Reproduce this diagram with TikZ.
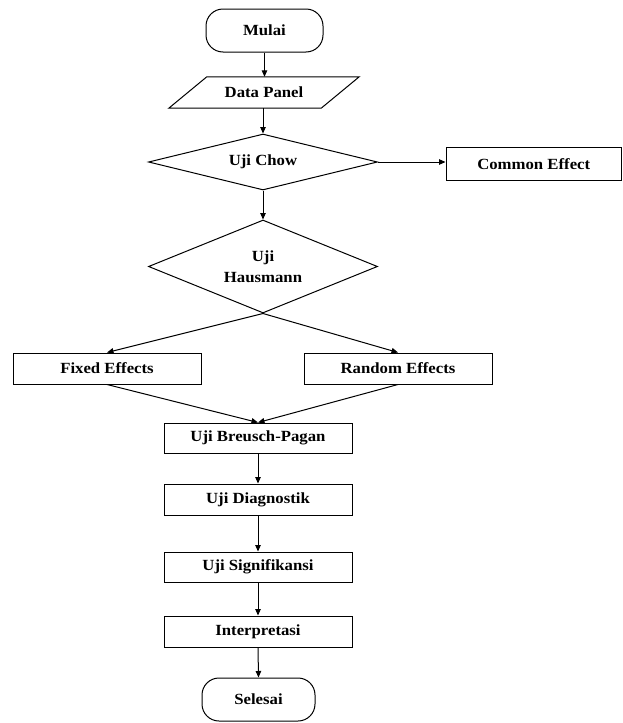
\documentclass[tikz,border=0pt]{standalone}
\usepackage{fontspec}
\setmainfont{Liberation Serif}[FakeStretch=1.08]
\usetikzlibrary{shapes.geometric,arrows.meta}
\tikzset{
  base/.style={draw=black, line width=1pt, inner sep=0pt, font=\fontsize{15.5}{21}\selectfont\bfseries, align=center},
  term/.style={base, rounded corners=17pt},
  box/.style={base, rectangle},
  decision/.style={base, diamond},
  conn/.style={line width=1pt, -{Triangle[length=6.5pt,width=5.5pt]}},
}
\begin{document}
\begin{tikzpicture}[x=1pt,y=-1pt]
\useasboundingbox (0,0) rectangle (623,723);
\node[term, minimum width=117pt, minimum height=43pt] (mulai) at (264.5,30.5) {Mulai};
\node[inner sep=0pt, minimum width=152pt, minimum height=31pt, font=\fontsize{15.5}{21}\selectfont\bfseries] (dp) at (264,92.5) {Data Panel};
\draw[line width=1pt] ([xshift=19pt]dp.north west) -- ([xshift=19pt]dp.north east) -- ([xshift=-19pt]dp.south east) -- ([xshift=-19pt]dp.south west) -- cycle;
\node[decision, shape aspect=4.09, minimum width=229pt, minimum height=56pt] (chow) at (263,162) {Uji Chow};
\node[box, minimum width=175.5pt, minimum height=33pt] (common) at (533.75,164) {Common Effect};
\node[decision, shape aspect=2.46, minimum width=229pt, minimum height=93pt] (haus) at (263,266.5) {Uji\\Hausmann};
\node[box, minimum width=188pt, minimum height=31pt] (fixed) at (107,368.5) {Fixed Effects};
\node[box, minimum width=188pt, minimum height=31pt] (random) at (398,368.5) {Random Effects};
\node[box, minimum width=188pt, minimum height=30pt] (bp) at (258,438) {Uji Breusch-Pagan};
\node[box, minimum width=188pt, minimum height=31pt] (diag) at (258,499.5) {Uji Diagnostik};
\node[box, minimum width=188pt, minimum height=30pt] (sig) at (258,567) {Uji Signifikansi};
\node[box, minimum width=188pt, minimum height=31pt] (interp) at (258,631.5) {Interpretasi};
\node[term, minimum width=113pt, minimum height=43pt] (selesai) at (258.5,699.5) {Selesai};

\draw[conn] (mulai.south) -- (mulai.south |- dp.north);
\draw[conn] (dp.south -| chow.north) -- (chow.north);
\draw[conn] (chow.east) -- (chow.east -| common.west);
\draw[conn] (chow.south) -- (haus.north);
\draw[conn] (haus.south) -- (fixed.north);
\draw[conn] (haus.south) -- (random.north);
\draw[conn] (fixed.south) -- (bp.north);
\draw[conn] (random.south) -- (bp.north);
\draw[conn] (bp.south) -- (diag.north);
\draw[conn] (diag.south) -- (sig.north);
\draw[conn] (sig.south) -- (interp.north);
\draw[conn] (interp.south) -- (selesai.north);
\end{tikzpicture}
\end{document}
